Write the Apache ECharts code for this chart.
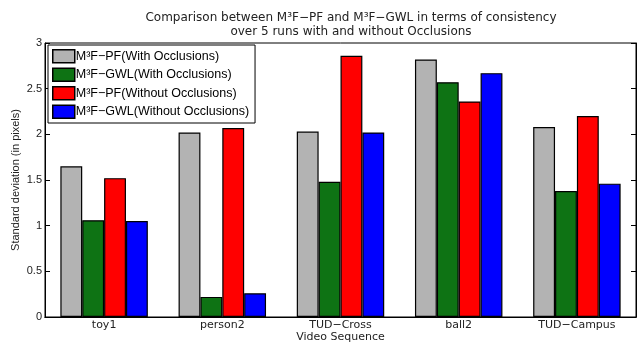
<!DOCTYPE html>
<html>
<head>
<meta charset="utf-8">
<script src="https://cdn.jsdelivr.net/npm/echarts@6/dist/echarts.min.js"></script>
<style>
html, body { margin: 0; padding: 0; background: #fff; }
#main { width: 644px; height: 342px; }
</style>
</head>
<body>
<div id="main"></div>
<script>
var categories = ['toy1', 'person2', 'TUD\u2212Cross', 'ball2', 'TUD\u2212Campus'];
var seriesNames = [
    'M\u00b3F\u2212PF(With Occlusions)',
    'M\u00b3F\u2212GWL(With Occlusions)',
    'M\u00b3F\u2212PF(Without Occlusions)',
    'M\u00b3F\u2212GWL(Without Occlusions)'
];
var pfWith = [1.65, 2.02, 2.03, 2.82, 2.08];
var gwlWith = [1.06, 0.22, 1.48, 2.57, 1.38];
var pfWithout = [1.52, 2.07, 2.86, 2.36, 2.20];
var gwlWithout = [1.05, 0.26, 2.02, 2.67, 1.46];
var colors = ['#b3b3b3', '#0e7314', '#ff0000', '#0000ff'];

var chart = echarts.init(document.getElementById('main'));
var font = 'DejaVu Sans';
var font2 = 'Liberation Sans';

function bar(i, data) {
    return {
        name: seriesNames[i],
        type: 'bar',
        barGap: '0%',
        barCategoryGap: '26%',
        itemStyle: {
            color: colors[i],
            borderColor: '#000',
            borderWidth: 1.2
        },
        data: data
    };
}

var option = {
    animation: false,
    textStyle: { fontFamily: font },
    title: {
        text: 'Comparison between M\u00b3F\u2212PF and M\u00b3F\u2212GWL in terms of consistency\nover 5 runs with and without Occlusions',
        left: 346,
        textAlign: 'center',
        top: 6,
        textStyle: {
            fontFamily: font,
            fontSize: 12,
            fontWeight: 'normal',
            color: '#222',
            lineHeight: 14
        }
    },
    legend: {
        orient: 'vertical',
        left: 48,
        top: 45,
        padding: [4, 6, 4, 4],
        itemGap: 4,
        itemWidth: 22,
        itemHeight: 13,
        icon: 'rect',
        backgroundColor: '#fff',
        borderColor: '#000',
        borderWidth: 1,
        selectedMode: false,
        textStyle: { fontFamily: font2, fontSize: 12.5, color: '#000', padding: [0, 0, 0, -4] },
        data: seriesNames.map(function (n) {
            return { name: n, itemStyle: { borderColor: '#000', borderWidth: 1.5 } };
        })
    },
    grid: {
        left: 45,
        right: 8,
        top: 43,
        bottom: 25,
        outerBoundsMode: 'none',
        containLabel: false,
        show: true,
        borderColor: '#000',
        borderWidth: 1
    },
    xAxis: [
        {
            type: 'category',
            data: categories,
            name: 'Video Sequence',
            nameLocation: 'middle',
            nameGap: 15,
            nameMoveOverlap: false,
            nameTextStyle: { fontFamily: font, fontSize: 11, color: '#222' },
            axisLine: { lineStyle: { color: '#000' } },
            axisTick: { alignWithLabel: true, inside: true, length: 5, lineStyle: { color: '#000' } },
            axisLabel: { fontFamily: font, fontSize: 11, color: '#222', margin: 3 }
        },
        {
            type: 'category',
            data: categories,
            position: 'top',
            axisLine: { lineStyle: { color: '#000' } },
            axisTick: { alignWithLabel: true, inside: true, length: 5, lineStyle: { color: '#000' } },
            axisLabel: { show: false }
        }
    ],
    yAxis: [
        {
            type: 'value',
            min: 0,
            max: 3,
            interval: 0.5,
            name: 'Standard deviation (in pixels)',
            nameLocation: 'middle',
            nameGap: 24,
            nameMoveOverlap: false,
            nameTextStyle: { fontFamily: font2, fontSize: 11, color: '#222' },
            axisLine: { show: true, lineStyle: { color: '#000' } },
            axisTick: { show: true, inside: true, length: 5, lineStyle: { color: '#000' } },
            axisLabel: { fontFamily: font2, fontSize: 11, color: '#222', margin: 3 },
            splitLine: { show: false }
        },
        {
            type: 'value',
            min: 0,
            max: 3,
            interval: 0.5,
            position: 'right',
            axisLine: { show: true, lineStyle: { color: '#000' } },
            axisTick: { show: true, inside: true, length: 5, lineStyle: { color: '#000' } },
            axisLabel: { show: false },
            splitLine: { show: false }
        }
    ],
    series: [
        bar(0, pfWith),
        bar(1, gwlWith),
        bar(2, pfWithout),
        bar(3, gwlWithout)
    ]
};

chart.setOption(option);
</script>
</body>
</html>
